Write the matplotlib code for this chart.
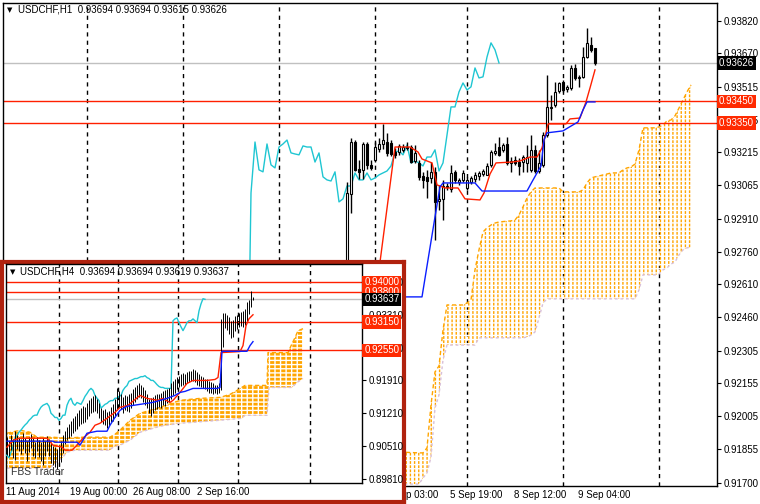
import numpy as np
import matplotlib
matplotlib.use("Agg")
import matplotlib.pyplot as plt
import matplotlib.transforms as mtransforms

plt.rcParams["font.family"] = ["Liberation Sans", "DejaVu Sans"]
plt.rcParams["hatch.linewidth"] = 1.0

# ---------------- H1 chart (main) ----------------
h1_open = [0.91950, 0.93025, 0.93263, 0.93139, 0.93135, 0.93254, 0.93158, 0.93181, 0.93231, 0.93254,
           0.93263, 0.93259, 0.93217, 0.93217, 0.93227, 0.93236, 0.93240, 0.93176, 0.93167, 0.93107,
           0.93103, 0.93098, 0.93126, 0.92992, 0.93002, 0.93057, 0.93048, 0.93126, 0.93080, 0.93089,
           0.93052, 0.93080, 0.93093, 0.93107, 0.93116, 0.93112, 0.93158, 0.93213, 0.93240, 0.93227,
           0.93254, 0.93167, 0.93181, 0.93171, 0.93171, 0.93167, 0.93135, 0.93227, 0.93130, 0.93158,
           0.93295, 0.93419, 0.93433, 0.93497, 0.93539, 0.93507, 0.93511, 0.93603, 0.93557, 0.93562,
           0.93653, 0.93708, 0.93694]
h1_high = [0.93080, 0.93282, 0.93272, 0.93181, 0.93263, 0.93263, 0.93181, 0.93263, 0.93282, 0.93346,
           0.93305, 0.93272, 0.93236, 0.93254, 0.93254, 0.93263, 0.93249, 0.93249, 0.93181, 0.93126,
           0.93135, 0.93171, 0.93148, 0.93066, 0.93089, 0.93075, 0.93158, 0.93135, 0.93098, 0.93135,
           0.93103, 0.93107, 0.93126, 0.93130, 0.93139, 0.93167, 0.93227, 0.93259, 0.93286, 0.93259,
           0.93286, 0.93194, 0.93199, 0.93190, 0.93204, 0.93249, 0.93295, 0.93249, 0.93227, 0.93309,
           0.93571, 0.93479, 0.93539, 0.93539, 0.93548, 0.93525, 0.93617, 0.93621, 0.93571, 0.93699,
           0.93786, 0.93745, 0.93694]
h1_low = [0.91900, 0.92937, 0.93130, 0.93093, 0.93093, 0.93139, 0.93135, 0.93171, 0.93217, 0.93231,
          0.93199, 0.93199, 0.93190, 0.93204, 0.93217, 0.93227, 0.93167, 0.93167, 0.93089, 0.93052,
          0.93006, 0.93075, 0.92813, 0.92951, 0.92905, 0.93043, 0.93034, 0.93075, 0.93066, 0.93080,
          0.93043, 0.93070, 0.93080, 0.93089, 0.93107, 0.93112, 0.93148, 0.93204, 0.93199, 0.93217,
          0.93158, 0.93126, 0.93158, 0.93112, 0.93126, 0.93126, 0.93126, 0.93121, 0.93121, 0.93148,
          0.93286, 0.93364, 0.93424, 0.93488, 0.93493, 0.93493, 0.93502, 0.93548, 0.93516, 0.93557,
          0.93649, 0.93676, 0.93615]
h1_close = [0.93029, 0.93263, 0.93135, 0.93126, 0.93254, 0.93158, 0.93144, 0.93240, 0.93254, 0.93272,
            0.93213, 0.93208, 0.93204, 0.93245, 0.93240, 0.93240, 0.93171, 0.93213, 0.93103, 0.93089,
            0.93084, 0.93126, 0.92988, 0.93002, 0.93061, 0.93061, 0.93121, 0.93089, 0.93089, 0.93121,
            0.93089, 0.93098, 0.93112, 0.93121, 0.93130, 0.93153, 0.93217, 0.93222, 0.93204, 0.93249,
            0.93167, 0.93176, 0.93167, 0.93153, 0.93194, 0.93194, 0.93227, 0.93130, 0.93167, 0.93295,
            0.93424, 0.93424, 0.93493, 0.93534, 0.93502, 0.93516, 0.93603, 0.93557, 0.93562, 0.93653,
            0.93718, 0.93686, 0.93626]
h1_prev_close = 0.91850
h1_chikou_shift = 24

h1_tenkan_x = [7, 8.25, 12, 15.75, 17.75, 18.75, 21.25, 22.5, 24.5, 27.75, 29.5, 33.25, 34.25, 35.75,
               37.25, 41.25, 43.25, 45.75, 47.5, 48.75, 49.75, 50.25, 54.75, 55.75, 58.25, 59.75, 60.75, 62]
h1_tenkan = [0.92200, 0.92712, 0.93240, 0.93240, 0.93217, 0.93185, 0.93167, 0.93066, 0.93052, 0.93052,
             0.93002, 0.92997, 0.93029, 0.93116, 0.93167, 0.93171, 0.93176, 0.93194, 0.93194, 0.93236,
             0.93305, 0.93346, 0.93346, 0.93369, 0.93373, 0.93447, 0.93511, 0.93594]
h1_kijun_x = [0, 18.75, 20.25, 22, 23.25, 24, 32, 33.75, 45, 46.25, 47.5, 48.5, 49.25, 50, 54, 55.25,
              57.75, 59, 60, 62]
h1_kijun = [0.92552, 0.92552, 0.92722, 0.92919, 0.93057, 0.93075, 0.93075, 0.93038, 0.93038, 0.93080,
            0.93121, 0.93153, 0.93272, 0.93305, 0.93314, 0.93328, 0.93355, 0.93410, 0.93447, 0.93447]
h1_span_a_x = [13, 18, 19, 20, 21, 22, 23, 24, 25, 29, 30, 31, 32, 33, 34, 35, 36, 37, 38, 41, 42, 43,
               44, 45, 46, 47, 53, 54, 58, 59, 60, 61, 62, 63, 64, 65, 66, 68, 69, 70, 71, 72, 73, 74,
               77, 78, 79, 80, 81, 82, 83, 84, 85, 86]
h1_span_a = [0.91840, 0.91836, 0.91836, 0.91859, 0.92056, 0.92208, 0.92235, 0.92400, 0.92515, 0.92515,
             0.92524, 0.92538, 0.92676, 0.92768, 0.92850, 0.92869, 0.92882, 0.92891, 0.92896, 0.92901,
             0.92905, 0.92928, 0.92965, 0.93006, 0.93034, 0.93052, 0.93052, 0.93034, 0.93034, 0.93043,
             0.93075, 0.93098, 0.93103, 0.93107, 0.93112, 0.93116, 0.93121, 0.93121, 0.93135, 0.93144,
             0.93148, 0.93162, 0.93227, 0.93328, 0.93328, 0.93332, 0.93341, 0.93360, 0.93364, 0.93383,
             0.93419, 0.93456, 0.93493, 0.93525]
h1_span_b_x = [13, 18, 19, 20, 21, 22, 23, 24, 25, 32, 33, 44, 45, 46, 47, 48, 49, 50, 72, 73, 74, 77,
               78, 79, 80, 81, 82, 83, 84, 85, 86]
h1_span_b = [0.91693, 0.91693, 0.91721, 0.91744, 0.91817, 0.92042, 0.92102, 0.92263, 0.92331, 0.92331,
             0.92364, 0.92364, 0.92368, 0.92377, 0.92391, 0.92455, 0.92524, 0.92543, 0.92543, 0.92584,
             0.92653, 0.92653, 0.92657, 0.92676, 0.92685, 0.92703, 0.92712, 0.92745, 0.92768, 0.92777,
             0.92781]

h1_grid_x = [-65, -41, -17, 7, 30, 54, 78]
h1_xtick_pos = [9.75, 25.75, 41.75, 57.75]
h1_xtick_labels = ["5 Sep 03:00", "5 Sep 19:00", "8 Sep 12:00", "9 Sep 04:00"]
h1_yticks = [0.91700, 0.91855, 0.92005, 0.92155, 0.92305, 0.92460, 0.92610, 0.92760, 0.92910,
             0.93065, 0.93215, 0.93365, 0.93515, 0.93670, 0.93820]
h1_levels = [0.93450, 0.93350]

# ---------------- H4 chart (inset) ----------------
h4_high = [0.9071, 0.9062, 0.9074, 0.9066, 0.9083, 0.9075, 0.9070, 0.9066, 0.9079, 0.9068,
           0.9062, 0.9071, 0.9077, 0.9068, 0.9060, 0.9070, 0.9064, 0.9060, 0.9068, 0.9062,
           0.9072, 0.9066, 0.9057, 0.9051, 0.9049, 0.9045, 0.9053, 0.9062, 0.9074, 0.9083,
           0.9091, 0.9098, 0.9104, 0.9110, 0.9115, 0.9121, 0.9127, 0.9132, 0.9136, 0.9134,
           0.9142, 0.9149, 0.9153, 0.9157, 0.9159, 0.9151, 0.9142, 0.9132, 0.9127, 0.9130,
           0.9123, 0.9125, 0.9134, 0.9140, 0.9151, 0.9174, 0.9168, 0.9161, 0.9155, 0.9159,
           0.9157, 0.9161, 0.9165, 0.9172, 0.9178, 0.9182, 0.9185, 0.9182, 0.9176, 0.9170,
           0.9163, 0.9151, 0.9153, 0.9155, 0.9159, 0.9161, 0.9163, 0.9165, 0.9168, 0.9170,
           0.9172, 0.9174, 0.9185, 0.9189, 0.9193, 0.9199, 0.9201, 0.9204, 0.9206, 0.9204,
           0.9208, 0.9210, 0.9212, 0.9216, 0.9214, 0.9208, 0.9204, 0.9201, 0.9199, 0.9195,
           0.9193, 0.9189, 0.9187, 0.9185, 0.9182, 0.9182, 0.9185, 0.9321, 0.9334, 0.9334,
           0.9330, 0.9326, 0.9318, 0.9320, 0.9328, 0.9330, 0.9334, 0.9337, 0.9339, 0.9343,
           0.9358, 0.9362, 0.9382, 0.93694]
h4_low = [0.9032, 0.9030, 0.9043, 0.9025, 0.9021, 0.9045, 0.9040, 0.9034, 0.9045, 0.9036,
          0.9019, 0.9038, 0.9047, 0.9030, 0.9026, 0.9040, 0.9028, 0.9019, 0.9011, 0.9030,
          0.9040, 0.9030, 0.9015, 0.9011, 0.9006, 0.9002, 0.9009, 0.9017, 0.9036, 0.9055,
          0.9064, 0.9068, 0.9072, 0.9079, 0.9083, 0.9087, 0.9093, 0.9098, 0.9100, 0.9102,
          0.9108, 0.9115, 0.9121, 0.9123, 0.9125, 0.9121, 0.9110, 0.9102, 0.9098, 0.9096,
          0.9089, 0.9093, 0.9102, 0.9104, 0.9112, 0.9127, 0.9134, 0.9130, 0.9121, 0.9127,
          0.9125, 0.9123, 0.9132, 0.9138, 0.9144, 0.9151, 0.9155, 0.9153, 0.9146, 0.9138,
          0.9132, 0.9121, 0.9115, 0.9121, 0.9127, 0.9130, 0.9134, 0.9132, 0.9138, 0.9136,
          0.9142, 0.9144, 0.9151, 0.9159, 0.9165, 0.9172, 0.9178, 0.9180, 0.9182, 0.9182,
          0.9185, 0.9187, 0.9189, 0.9189, 0.9187, 0.9182, 0.9180, 0.9178, 0.9174, 0.9172,
          0.9168, 0.9165, 0.9165, 0.9163, 0.9165, 0.9163, 0.9165, 0.9170, 0.9263, 0.9303,
          0.9299, 0.9290, 0.9282, 0.9284, 0.9297, 0.9301, 0.9305, 0.9307, 0.9305, 0.9309,
          0.9318, 0.9333, 0.9348, 0.93619]
h4_close = [0.9053, 0.9047, 0.9059, 0.9043, 0.9051, 0.9064, 0.9057, 0.9049, 0.9062, 0.9053,
            0.9043, 0.9055, 0.9064, 0.9051, 0.9045, 0.9057, 0.9049, 0.9038, 0.9053, 0.9047,
            0.9059, 0.9051, 0.9038, 0.9030, 0.9032, 0.9026, 0.9038, 0.9049, 0.9068, 0.9074,
            0.9081, 0.9085, 0.9091, 0.9096, 0.9100, 0.9106, 0.9110, 0.9115, 0.9117, 0.9117,
            0.9127, 0.9134, 0.9138, 0.9140, 0.9142, 0.9136, 0.9121, 0.9117, 0.9112, 0.9112,
            0.9106, 0.9110, 0.9117, 0.9117, 0.9138, 0.9148, 0.9153, 0.9142, 0.9138, 0.9144,
            0.9142, 0.9140, 0.9148, 0.9157, 0.9163, 0.9170, 0.9174, 0.9170, 0.9159, 0.9153,
            0.9148, 0.9132, 0.9136, 0.9140, 0.9142, 0.9146, 0.9148, 0.9148, 0.9153, 0.9153,
            0.9157, 0.9159, 0.9170, 0.9176, 0.9180, 0.9189, 0.9191, 0.9193, 0.9195, 0.9195,
            0.9197, 0.9199, 0.9199, 0.9201, 0.9197, 0.9195, 0.9191, 0.9191, 0.9187, 0.9182,
            0.9178, 0.9176, 0.9176, 0.9174, 0.9174, 0.9174, 0.9174, 0.9318, 0.9322, 0.9324,
            0.9314, 0.9305, 0.9297, 0.9305, 0.9314, 0.9318, 0.9318, 0.9322, 0.9318, 0.9314,
            0.9339, 0.9354, 0.9365, 0.93637]
h4_title_ohlc = [0.93694, 0.93694, 0.93619, 0.93637]
h4_chikou_shift = 24

h4_tenkan_x = [0, 3, 6.5, 20, 23, 27.5, 29, 32.5, 35, 38, 41.5, 44, 46.5, 50, 54, 56.5, 60.5, 66.5,
               70, 75.5, 77.5, 81.5, 83, 86.5, 90, 93, 100, 104, 105.5, 107, 116.5, 118, 119.5, 121, 123]
h4_tenkan = [0.90488, 0.90637, 0.90679, 0.90679, 0.90531, 0.90488, 0.90425, 0.90425, 0.90531, 0.90679,
             0.90806, 0.90955, 0.90997, 0.91103, 0.91230, 0.91336, 0.91379, 0.91591, 0.91527, 0.91485,
             0.91527, 0.91442, 0.91485, 0.91654, 0.91845, 0.91909, 0.91909, 0.91930, 0.91972, 0.92502,
             0.92524, 0.92651, 0.93075, 0.93223, 0.93308]
h4_kijun_x = [0, 23, 24, 35, 36.5, 38, 40, 45, 50, 51.5, 54, 56.5, 60, 66.5, 73, 80, 84, 86.5, 89, 93,
              105, 106.5, 107.5, 120, 121.5, 123]
h4_kijun = [0.90616, 0.90616, 0.90594, 0.90594, 0.90531, 0.90637, 0.90785, 0.90828, 0.90828, 0.90955,
            0.91124, 0.91273, 0.91358, 0.91400, 0.91442, 0.91527, 0.91591, 0.91654, 0.91676, 0.91739,
            0.91739, 0.91760, 0.92530, 0.92530, 0.92651, 0.92736]
h4_span_a_x = [0, 6.5, 11.5, 15, 23, 30, 36.5, 51.5, 54, 56.5, 61.5, 66.5, 76.5, 86.5, 96.5, 106.5,
               111.5, 115, 119, 130, 130.5, 140.5, 142.5, 144, 145.5, 148]
h4_span_a = [0.90785, 0.90849, 0.90806, 0.90700, 0.90700, 0.90679, 0.90700, 0.90700, 0.90764, 0.90849,
             0.91061, 0.91209, 0.91336, 0.91485, 0.91527, 0.91548, 0.91612, 0.91697, 0.91803, 0.91803,
             0.92502, 0.92502, 0.92693, 0.92820, 0.92969, 0.93011]
h4_span_b_x = [0, 21.5, 24, 27.5, 30, 34, 51.5, 53, 56.5, 61.5, 66.5, 76.5, 86.5, 106.5, 117.5, 119,
               130, 131, 142.5, 145, 148]
h4_span_b = [0.90043, 0.90043, 0.90149, 0.90255, 0.90382, 0.90425, 0.90425, 0.90488, 0.90531, 0.90637,
             0.90806, 0.90934, 0.90997, 0.91061, 0.91103, 0.91167, 0.91167, 0.91760, 0.91760, 0.91866,
             0.91951]

h4_grid_x = [26, 55.5, 85.5, 115.5, 151.5]
h4_xtick_pos = [-0.5, 31.5, 63, 95]
h4_xtick_labels = ["11 Aug 2014", "19 Aug 00:00", "26 Aug 08:00", "2 Sep 16:00"]
h4_yticks = [0.89810, 0.90510, 0.91210, 0.91910, 0.92610, 0.93310, 0.94010]
h4_levels = [0.94000, 0.93800, 0.93150, 0.92550]

RED = "#FF2000"
BOX_RED = "#FF2A00"
CYAN = "#1FC6D2"
BLUE = "#0A1EFF"
ORANGE = "#FFA500"
THISTLE = "#D8BFD8"
FRAME = "#B0220E"
W, H = 760, 504


def px_rect(x0, y0, x1, y1):
    return [x0 / W, 1 - y1 / H, (x1 - x0) / W, (y1 - y0) / H]


def price_box(ax, x, price, fc, fs=7):
    tr = mtransforms.blended_transform_factory(ax.transAxes, ax.transData)
    ax.text(x, price, f"{price:.5f}", transform=tr, ha="left", va="center", fontsize=fs,
            color="white", clip_on=False, zorder=20,
            bbox=dict(boxstyle="square,pad=0.18", fc=fc, ec="none"))


def cloud(ax, ax_x, a, bx_x, b, main=True):
    px = list(ax_x) + list(bx_x)[::-1]
    py = list(a) + list(b)[::-1]
    if main:
        ax.fill(px, py, facecolor="none", edgecolor=ORANGE, hatch="||||", linewidth=0, zorder=1)
        ax.fill(px, py, facecolor="none", edgecolor="white", hatch="----", linewidth=0, zorder=1.1)
    else:
        ax.fill(px, py, facecolor=ORANGE, edgecolor="white", hatch="----", linewidth=0, zorder=1)
        ax.fill(px, py, facecolor="none", edgecolor="white", hatch="|||", linewidth=0, zorder=1.1)
    ax.plot(ax_x, a, color=ORANGE, lw=1, ls=(0, (3, 2)), zorder=1.2)
    ax.plot(bx_x, b, color=THISTLE, lw=1, ls=(0, (2, 2)), zorder=1.2)


fig = plt.figure(figsize=(W / 100, H / 100), dpi=100)
fig.patch.set_facecolor("white")

# ---------- main H1 chart ----------
ax = fig.add_axes(px_rect(3, 3, 717, 486), zorder=0)
ax.set_xlim(-86, 92.5)
ax.set_ylim(0.91684, 0.93901)
for s in ax.spines.values():
    s.set_color("black")
    s.set_linewidth(1)

for gx in h1_grid_x:
    ax.axvline(gx, color="black", lw=1, ls=(0, (3, 3)), zorder=0.5)

cloud(ax, h1_span_a_x, h1_span_a, h1_span_b_x, h1_span_b, main=True)

ax.axhline(h1_close[-1], color="#C0C0C0", lw=1, zorder=1.5)
for lv in h1_levels:
    ax.axhline(lv, color=RED, lw=1, zorder=1.5)

idx = np.arange(len(h1_close))
o = np.array(h1_open)
c = np.array(h1_close)
ax.vlines(idx, h1_low, h1_high, color="black", lw=1, zorder=4)
up = c >= o
ax.bar(idx, np.abs(c - o), bottom=np.minimum(o, c), width=0.7,
       color=np.where(up, "white", "black"), edgecolor="black", linewidth=0.8, zorder=5)

chik_x = np.concatenate([[-1 - h1_chikou_shift], idx - h1_chikou_shift])
chik_y = np.concatenate([[h1_prev_close], c])
ax.plot(chik_x, chik_y, color=CYAN, lw=1, zorder=3)
ax.plot(h1_tenkan_x, h1_tenkan, color=RED, lw=1, zorder=6)
ax.plot(h1_kijun_x, h1_kijun, color=BLUE, lw=1, zorder=6)

ax.yaxis.tick_right()
ax.set_yticks(h1_yticks)
ax.set_yticklabels([f"{v:.5f}" for v in h1_yticks])
ax.tick_params(axis="y", direction="out", length=3, width=0.8, pad=2, labelsize=7)
ax.set_xticks([])
trx = mtransforms.blended_transform_factory(ax.transData, ax.transAxes)
for xp, lab in zip(h1_xtick_pos, h1_xtick_labels):
    ax.text(xp, -0.0186, lab, transform=trx, ha="left", va="center", fontsize=7, clip_on=False)

price_box(ax, 1.0025, h1_close[-1], "black")
for lv in h1_levels:
    price_box(ax, 1.0025, lv, BOX_RED)

fig.text(7 / W, 1 - 10 / H, "\u25bc", fontsize=5, va="center", ha="left", family="DejaVu Sans")
fig.text(18 / W, 1 - 10 / H,
         "USDCHF,H1  " + " ".join(f"{v:.5f}" for v in
                                  [h1_open[-1], h1_high[-1], h1_low[-1], h1_close[-1]]),
         fontsize=7, va="center", ha="left")

# ---------- inset frame ----------
fr = fig.add_axes(px_rect(2, 262, 404, 502), zorder=9)
fr.set_facecolor("white")
fr.set_xticks([])
fr.set_yticks([])
for s in fr.spines.values():
    s.set_color(FRAME)
    s.set_linewidth(3)

# ---------- inset H4 chart ----------
ax2 = fig.add_axes(px_rect(6, 264, 362, 483), zorder=10)
ax2.set_facecolor("white")
ax2.set_xlim(-0.5, 177.5)
ax2.set_ylim(0.89725, 0.94389)
for s in ax2.spines.values():
    s.set_color("black")
    s.set_linewidth(1)

for gx in h4_grid_x:
    ax2.axvline(gx, color="black", lw=1, ls=(0, (3, 3)), zorder=0.5)

cloud(ax2, h4_span_a_x, h4_span_a, h4_span_b_x, h4_span_b, main=False)

ax2.axhline(h4_close[-1], color="#C0C0C0", lw=1, zorder=1.5)
for lv in h4_levels:
    ax2.axhline(lv, color=RED, lw=1, zorder=1.5)

k = np.arange(len(h4_close))
ax2.vlines(k, h4_low, h4_high, color="black", lw=0.7, zorder=4)
ax2.plot(k - h4_chikou_shift, h4_close, color=CYAN, lw=1, zorder=3)
ax2.plot(h4_tenkan_x, h4_tenkan, color=RED, lw=1, zorder=5)
ax2.plot(h4_kijun_x, h4_kijun, color=BLUE, lw=1, zorder=5)

ax2.yaxis.tick_right()
ax2.set_yticks(h4_yticks)
ax2.set_yticklabels([f"{v:.5f}" for v in h4_yticks])
ax2.tick_params(axis="y", direction="out", length=3, width=0.8, pad=1.5, labelsize=7)
ax2.set_xticks([])
trx2 = mtransforms.blended_transform_factory(ax2.transData, ax2.transAxes)
for xp, lab in zip(h4_xtick_pos, h4_xtick_labels):
    ax2.text(xp, -0.041, lab, transform=trx2, ha="left", va="center", fontsize=7, clip_on=False)

for lv in h4_levels:
    price_box(ax2, 1.006, lv, BOX_RED)
price_box(ax2, 1.006, h4_close[-1], "black")

ax2.text(4 / 356, 1 - 8 / 219, "\u25bc", transform=ax2.transAxes, fontsize=5, va="center",
         ha="left", family="DejaVu Sans", zorder=20)
ax2.text(14 / 356, 1 - 8 / 219,
         "USDCHF,H4  " + " ".join(f"{v:.5f}" for v in h4_title_ohlc),
         transform=ax2.transAxes, fontsize=7, va="center", ha="left", zorder=20)
ax2.text(5 / 356, 6 / 219, "FBS Trader", transform=ax2.transAxes, fontsize=7.5,
         color="#333333", va="bottom", ha="left", zorder=20)

fig.savefig("out.png", dpi=100)
